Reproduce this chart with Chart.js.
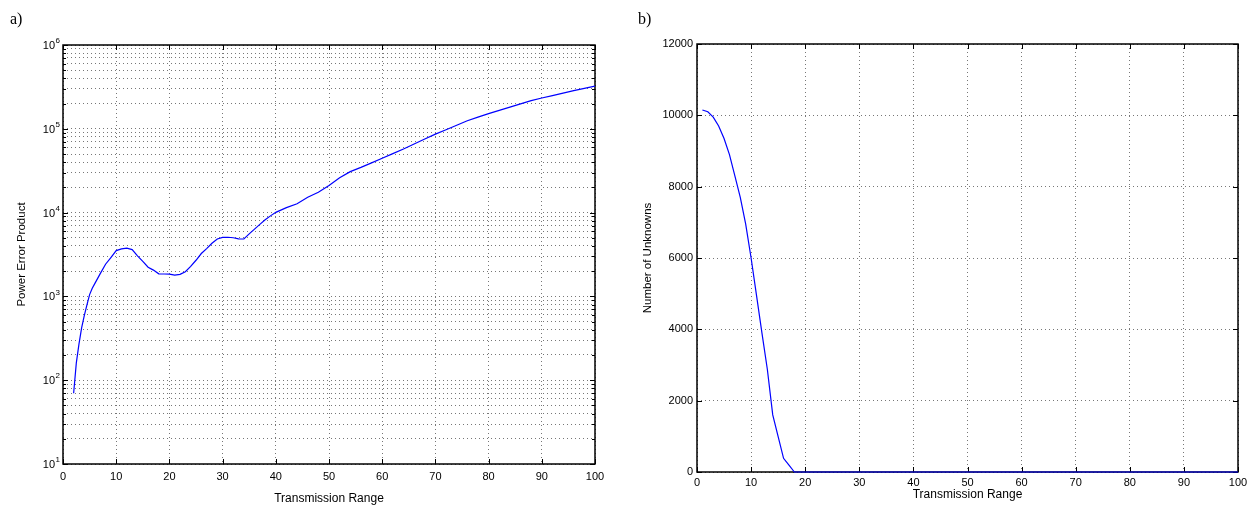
<!DOCTYPE html>
<html><head><meta charset="utf-8">
<script src="https://cdn.jsdelivr.net/npm/chart.js@4.4.1/dist/chart.umd.min.js"></script>
<style>
html,body{margin:0;padding:0;background:#fff;}
#wrap{position:relative;width:1254px;height:506px;overflow:hidden;background:#fff;}
canvas{position:absolute;top:0;}
.lbl{position:absolute;font-family:"Liberation Serif","Times New Roman",serif;font-size:16px;line-height:16px;color:#000;}
</style></head><body>
<div id="wrap">
<canvas id="ca" width="627" height="506" style="left:0"></canvas>
<canvas id="cb" width="627" height="506" style="left:627px"></canvas>
<div class="lbl" style="left:10px;top:11px">a)</div>
<div class="lbl" style="left:638px;top:11px">b)</div>
</div>
<script>
// ---- data ----
const rangeA = [2,2.5,3,3.5,4,4.5,5,5.5,6,7,8,9,10,11,12,13,14,15,16,17,18,19,20,21,22,23,24,25,26,27,28,29,30,31,32,33,34,35,36,37,38,39,40,42,44,46,48,50,52,54,56,58,60,62,64,66,68,70,72,74,76,78,80,82,84,86,88,90,92,94,96,98,100];
const powerErrorProduct = [70,160,270,420,590,790,1050,1250,1430,1870,2420,2910,3520,3690,3760,3620,3050,2620,2230,2060,1860,1850,1845,1790,1830,1970,2280,2700,3250,3720,4300,4850,5050,5080,5010,4860,4840,5580,6350,7230,8220,9140,10070,11450,12750,15250,17500,21000,26000,30800,34600,39200,44600,50600,57500,65900,75500,86400,97600,110300,124700,138000,152000,166000,181600,198600,217000,233000,249000,266000,285000,303000,324000];
const rangeB = [1,2,3,4,5,6,7,8,9,10,11,12,13,14,15,16,17,18,100];
const unknowns = [10150,10100,9950,9700,9350,8900,8300,7700,6950,6000,4950,3900,2880,1600,990,384,190,0,0];
const xTickLabels = [0,10,20,30,40,50,60,70,80,90,100];
const logDecadeExponents = [1,2,3,4,5,6];
const unknownTicks = [0,2000,4000,6000,8000,10000,12000];

// ---- helpers ----
const FONT = '"Liberation Sans", Arial, Helvetica, sans-serif';
Chart.defaults.font.family = FONT;
Chart.defaults.color = '#000';

const logTicks = [];
logDecadeExponents.forEach((e, i) => {
  if (i < logDecadeExponents.length - 1) {
    for (let m = 1; m <= 9; m++) logTicks.push({value: m * Math.pow(10, e), minor: m !== 1});
  } else {
    logTicks.push({value: Math.pow(10, e), minor: false});
  }
});

const boxPlugin = {
  id: 'box',
  beforeDatasetsDraw(chart) {
    const {ctx, chartArea: {left, right, top, bottom}} = chart;
    const xs = chart.scales.x, ys = chart.scales.y;
    ctx.save();
    ctx.strokeStyle = '#000';
    ctx.lineWidth = 1;
    ctx.beginPath();
    xs.ticks.forEach(t => {
      const p = Math.round(xs.getPixelForValue(t.value)) + 0.5;
      ctx.moveTo(p, bottom); ctx.lineTo(p, bottom - 5);
      ctx.moveTo(p, top); ctx.lineTo(p, top + 5);
    });
    ys.ticks.forEach(t => {
      const len = t.minor ? 3 : 5;
      const p = Math.round(ys.getPixelForValue(t.value)) + 0.5;
      ctx.moveTo(left, p); ctx.lineTo(left + len, p);
      ctx.moveTo(right, p); ctx.lineTo(right - len, p);
    });
    ctx.stroke();
    ctx.lineWidth = 1.5;
    ctx.strokeRect(left, top, right - left, bottom - top);
    ctx.restore();
  }
};

const logLabelPlugin = {
  id: 'logLabels',
  afterDraw(chart) {
    const {ctx, chartArea: {left}} = chart;
    const ys = chart.scales.y;
    ctx.save();
    ctx.fillStyle = '#000';
    logDecadeExponents.forEach(e => {
      const p = ys.getPixelForValue(Math.pow(10, e));
      ctx.font = '11px ' + FONT;
      ctx.textAlign = 'right';
      ctx.textBaseline = 'middle';
      ctx.fillText('10', left - 8, p + 1);
      ctx.font = '8px ' + FONT;
      ctx.textAlign = 'left';
      ctx.fillText(String(e), left - 7.5, p - 4);
    });
    ctx.restore();
  }
};

const gridOpts = {color: '#777', lineWidth: 1, drawTicks: false};
const borderOpts = {display: false, dash: [1, 3]};

// ---- chart a ----
new Chart(document.getElementById('ca'), {
  type: 'line',
  data: {datasets: [{
    data: rangeA.map((x, i) => ({x, y: powerErrorProduct[i]})),
    borderColor: '#0000ff', borderWidth: 1.2, pointRadius: 0, tension: 0, fill: false
  }]},
  options: {
    responsive: false, animation: false, devicePixelRatio: 1,
    layout: {padding: {top: 45, right: 32, left: 0, bottom: 0}},
    plugins: {legend: {display: false}, tooltip: {enabled: false}},
    scales: {
      x: {
        type: 'linear', min: 0, max: 100,
        afterBuildTicks: s => { s.ticks = xTickLabels.map(v => ({value: v})); },
        afterFit: s => { s.height = 42; },
        grid: gridOpts, border: borderOpts,
        ticks: {padding: 6, font: {size: 11}, autoSkip: false, maxRotation: 0, callback: v => String(v)},
        title: {display: true, text: 'Transmission Range', font: {size: 12}, padding: {top: 0, bottom: 0}}
      },
      y: {
        type: 'logarithmic', min: 10, max: 1e6,
        afterBuildTicks: s => { s.ticks = logTicks.map(t => ({value: t.value, minor: t.minor})); },
        afterFit: s => { s.width = 63; },
        grid: gridOpts, border: borderOpts,
        ticks: {display: false, autoSkip: false},
        title: {display: true, text: 'Power Error Product', font: {size: 11.5}, padding: {top: 15, bottom: 0}}
      }
    }
  },
  plugins: [boxPlugin, logLabelPlugin]
});

// ---- chart b ----
new Chart(document.getElementById('cb'), {
  type: 'line',
  data: {datasets: [{
    data: rangeB.map((x, i) => ({x, y: unknowns[i]})),
    borderColor: '#0000ff', borderWidth: 1.2, pointRadius: 0, tension: 0, fill: false, clip: 4
  }]},
  options: {
    responsive: false, animation: false, devicePixelRatio: 1,
    layout: {padding: {top: 44, right: 16, left: 0, bottom: 0}},
    plugins: {legend: {display: false}, tooltip: {enabled: false}},
    scales: {
      x: {
        type: 'linear', min: 0, max: 100,
        afterBuildTicks: s => { s.ticks = xTickLabels.map(v => ({value: v})); },
        afterFit: s => { s.height = 34; },
        grid: gridOpts, border: borderOpts,
        ticks: {padding: 4, font: {size: 11}, autoSkip: false, maxRotation: 0, callback: v => String(v)},
        title: {display: true, text: 'Transmission Range', font: {size: 12}, padding: {top: 0, bottom: 4}}
      },
      y: {
        type: 'linear', min: 0, max: 12000,
        afterBuildTicks: s => { s.ticks = unknownTicks.map(v => ({value: v})); },
        afterFit: s => { s.width = 70; },
        grid: gridOpts, border: borderOpts,
        ticks: {padding: 4, font: {size: 11}, autoSkip: false, callback: v => String(v)},
        title: {display: true, text: 'Number of Unknowns', font: {size: 11.5}, padding: {top: 14, bottom: 0}}
      }
    }
  },
  plugins: [boxPlugin]
});
</script>
</body></html>
